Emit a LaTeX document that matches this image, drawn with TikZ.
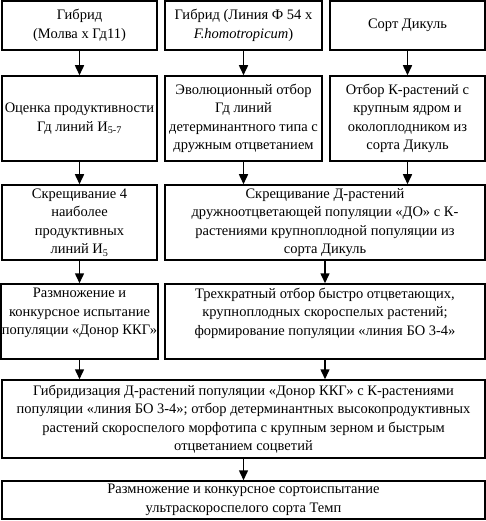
\documentclass[tikz,border=0pt]{standalone}
\usepackage{fontspec}
\setmainfont{Liberation Serif}
\usetikzlibrary{arrows.meta}

\begin{document}
\begin{tikzpicture}[x=1pt,y=-1pt]

\tikzset{box/.style = {shape=rectangle,draw,line width=1.5pt,align=center,inner sep=1pt,
  font=\fontsize{14.5}{18.5}\selectfont}}
\tikzset{edge/.style = {-{Triangle[width=9pt,length=10pt]},line width=1.5pt}}
\useasboundingbox (0,0) rectangle (486,521);
% boxes
\node[box, minimum width=155pt, minimum height=49pt] (1) at (79.5,25.5) {Гибрид\\(Молва х Гд11)};
\node[box, minimum width=157pt, minimum height=49pt] (2) at (243.5,25.5) {Гибрид (Линия Ф 54 х\\\textit{F.homotropicum})};
\node[box, minimum width=155pt, minimum height=49pt] (3) at (407.5,25.5) {Сорт Дикуль};
\node[box, minimum width=155pt, minimum height=85pt] (4) at (79.5,118.5) {Оценка продуктивности\\Гд линий И\textsubscript{5-7}};
\node[box, minimum width=157pt, minimum height=85pt] (5) at (243.5,118.5) {Эволюционный отбор\\Гд линий\\детерминантного типа с\\дружным отцветанием};
\node[box, minimum width=155pt, minimum height=85pt] (6) at (407.5,118.5) {Отбор К-растений с\\крупным ядром и\\околоплодником из\\сорта Дикуль};
\node[box, minimum width=155pt, minimum height=75pt] (7) at (79.5,222.5) {Скрещивание 4\\наиболее\\продуктивных\\линий И\textsubscript{5}};
\node[box, minimum width=320pt, minimum height=75pt] (8) at (325,222.5) {Скрещивание Д-растений\\дружноотцветающей популяции «ДО» с К-\\растениями крупноплодной популяции из\\сорта Дикуль};
\node[box, minimum width=155pt, minimum height=75pt, text depth=20pt] (9) at (79.5,321.5) {Размножение и\\конкурсное испытание\\популяции «Донор ККГ»};
\node[box, minimum width=320pt, minimum height=75pt, text depth=20pt] (10) at (325,321.5) {Трехкратный отбор быстро отцветающих,\\крупноплодных скороспелых растений;\\формирование популяции «линия БО 3-4»};
\node[box, minimum width=483pt, minimum height=78pt] (11) at (243.5,419) {Гибридизация Д-растений популяции «Донор ККГ» с К-растениями\\популяции «линия БО 3-4»; отбор детерминантных высокопродуктивных\\растений скороспелого морфотипа с крупным зерном и быстрым\\отцветанием соцветий};
\node[box, minimum width=483pt, minimum height=38pt] (12) at (243.5,500) {Размножение и конкурсное сортоиспытание\\ультраскороспелого сорта Темп};
%arrows
\draw[edge] (1) -- (4);
\draw[edge] (2) -- (5);
\draw[edge] (3) -- (6);
\draw[edge] (4) -- (7);
\draw[edge] (5.south) -- (5.south |- 8.north);
\draw[edge] (6.south) -- (6.south |- 8.north);
\draw[edge] (7) -- (9);
\draw[edge] (8) -- (10);
\draw[edge] (9.south) -- (9.south |- 11.north);
\draw[edge] (10.south) -- (10.south |- 11.north);
\draw[edge] (11) -- (12);

\end{tikzpicture}
\end{document}
